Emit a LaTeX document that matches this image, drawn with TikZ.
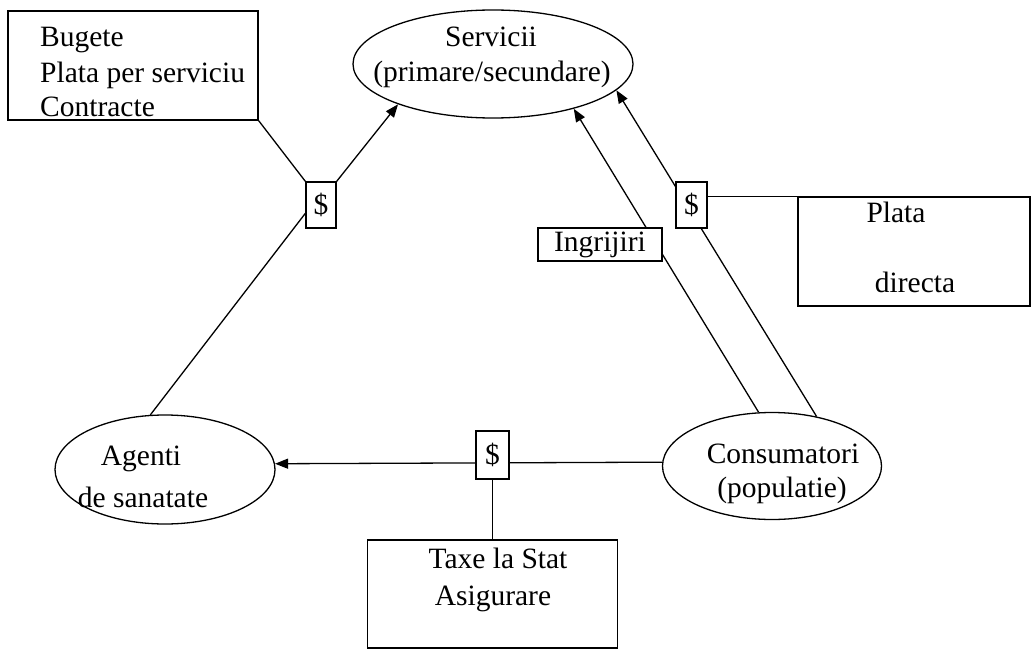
\documentclass[tikz,border=0pt]{standalone}
\usepackage{fontspec}
\setmainfont{Liberation Serif}
\usetikzlibrary{arrows.meta,backgrounds,shapes.geometric}
\begin{document}
\begin{tikzpicture}[x=1pt,y=-1pt,
  every node/.style={font=\fontsize{29.5}{35}\selectfont, inner sep=0pt},
  boxn/.style={draw, line width=1.3pt, fill=white, rectangle},
  elln/.style={draw, line width=1.3pt, ellipse},
  txt/.style={anchor=base},
  txtl/.style={anchor=base west},
  conn/.style={line width=1.3pt},
  arr/.style={conn, -{Triangle[length=13pt,width=10pt]}}
]
\useasboundingbox (0,0) rectangle (1032,650);

% shapes
\node[boxn, minimum width=250pt, minimum height=109pt] (budg) at (133,65.5) {};
\node[elln, minimum width=280pt, minimum height=108pt] (serv) at (493,64) {};
\node[elln, minimum width=220pt, minimum height=109pt] (agent) at (165,469.5) {};
\node[elln, minimum width=219pt, minimum height=107pt] (cons) at (772,466) {};
\node[boxn, minimum width=30pt, minimum height=46pt] (d1) at (321,205) {\$};
\node[boxn, minimum width=31pt, minimum height=46pt] (d2) at (691.5,205) {\$};
\node[boxn, minimum width=33pt, minimum height=48pt] (d3) at (492.5,455) {\$};
\node[boxn, minimum width=124pt, minimum height=33pt] (ingr) at (600,244.5) {Ingrijiri};
\node[boxn, minimum width=232pt, minimum height=109pt] (plata) at (914,251.5) {};
\node[boxn, minimum width=250pt, minimum height=108pt] (taxe) at (492.5,594) {};

% texts
\node[txtl] (b1) at (40,47) {Bugete};
\node[txtl] (b2) at (40,83) {Plata per serviciu};
\node[txtl] (b3) at (40,117) {Contracte};
\node[txt] (s1) at (491,47) {Servicii};
\node[txt] (s2) at (492,82) {(primare/secundare)};
\node[txt] (a1) at (141,465) {Agenti};
\node[txt] (a2) at (143,507) {de sanatate};
\node[txt] (c1) at (783,463) {Consumatori};
\node[txt] (c2) at (782,497) {(populatie)};
\node[txt] (p1) at (896,222) {Plata};
\node[txt] (p2) at (915,292) {directa};
\node[txt] (t1) at (498,568) {Taxe la Stat};
\node[txt] (t2) at (493,605) {Asigurare};

% connectors
\begin{scope}[on background layer]
\draw[conn] (budg.south east) -- (d1.north west);
\draw[arr] (d1.north east) -- (serv.203.8);
\draw[conn] (d1.208) -- (agent.105.4);
\draw[arr] (cons.178.4) -- (agent.3.4);
\draw[conn] (d3.south) -- (taxe.north);
\draw[arr] (cons.104.8) -- (serv.-29.1);
\draw[arr] (cons.48.6) -- (serv.-12.3);
\draw[conn] (d2.east |- plata.north) -- (plata.north west);
\end{scope}
\end{tikzpicture}
\end{document}
